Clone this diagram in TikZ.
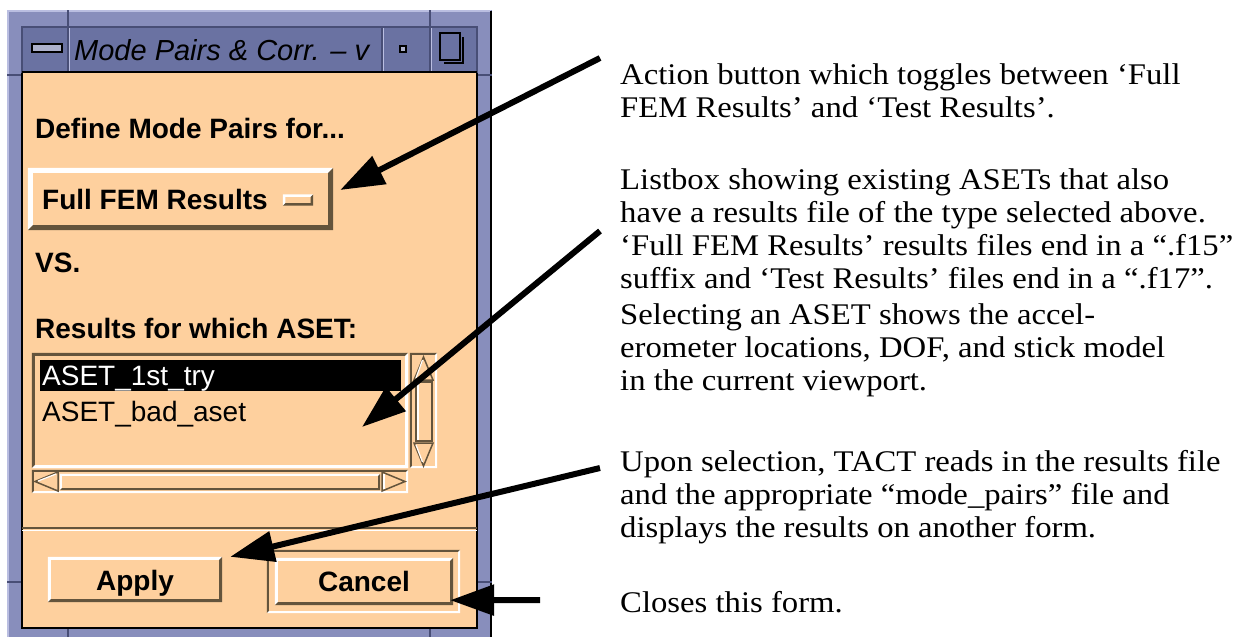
\documentclass[tikz,border=0pt]{standalone}
\usepackage{fontspec}
\setmainfont{Liberation Serif}
\newfontfamily\guifont{Liberation Sans}
\newfontfamily\descfont[FakeStretch=1.09]{Liberation Serif}
\usetikzlibrary{arrows.meta}

\definecolor{peach}{RGB}{254,208,158}
\definecolor{bevlo}{RGB}{100,84,60}
\definecolor{framebg}{RGB}{136,142,188}
\definecolor{framelt}{RGB}{186,190,225}
\definecolor{framedk}{RGB}{72,78,118}
\definecolor{titlebg}{RGB}{106,114,162}

% raised / sunken edge of a rectangular widget node
\newcommand{\widgetbevel}[4]{%
  \fill[#3] (#1.north west) -- (#1.north east) -- ([shift={(-#2,#2)}]#1.north east)
    -- ([shift={(#2,#2)}]#1.north west) -- ([shift={(#2,-#2)}]#1.south west) -- (#1.south west) -- cycle;
  \fill[#4] (#1.south east) -- (#1.south west) -- ([shift={(#2,-#2)}]#1.south west)
    -- ([shift={(-#2,-#2)}]#1.south east) -- ([shift={(-#2,#2)}]#1.north east) -- (#1.north east) -- cycle;
}
% short groove across the window frame
\newcommand{\framenotch}[4]{%
  \draw[framedk, line width=1.2] (#1,#2) -- (#3,#4);
}

\begin{document}
\begin{tikzpicture}[x=1pt, y=-1pt,
  box/.style={fill=peach, inner sep=0pt, draw=none},
  gui/.style={font=\guifont\bfseries\fontsize{28}{30}\selectfont, inner sep=0pt},
  listtext/.style={font=\guifont\fontsize{28}{30}\selectfont, inner sep=0pt},
  titletext/.style={font=\guifont\itshape\fontsize{29}{30}\selectfont, inner sep=0pt},
  desc/.style={font=\descfont\fontsize{30}{33}\selectfont, align=left, inner sep=0pt, anchor=north west},
  pointer/.style={line width=6pt, -{Triangle[length=44pt, width=30pt]}},
  sbarrow/.style={fill=peach, draw=bevlo, line width=1.5pt, line join=miter}
]
\useasboundingbox (0,0) rectangle (1257,637);
\fill[white] (0,0) rectangle (1257,637);

% ---- window frame ----
\fill[framebg] (7,10) rectangle (492,637);
\draw[framelt, line width=2pt] (8,637) -- (8,11) -- (491,11);
\draw[black, line width=2pt] (491,11) -- (491,637);
\framenotch{68}{10}{68}{27}
\framenotch{430}{10}{430}{27}
\framenotch{68}{628}{68}{637}
\framenotch{430}{628}{430}{637}
\framenotch{7}{75}{22}{75}
\framenotch{477}{75}{492}{75}
\framenotch{7}{582}{22}{582}
\framenotch{477}{582}{492}{582}

% ---- title bar ----
\fill[titlebg] (22,27) rectangle (477,72);
\draw[framedk, line width=1.2pt] (22,27) rectangle (477,72);
\foreach \sx in {68,382,430}{
  \draw[framedk, line width=1.2pt] (\sx,27) -- (\sx,72);
  \draw[framelt, line width=1pt] (\sx+1.5,28) -- (\sx+1.5,71);
}
\draw[black, line width=2pt] (22,72) -- (477,72);
\node[titletext, anchor=base west] (title) at (74,60) {Mode Pairs \& Corr. {\textendash} v};
\draw[black, line width=1.6pt, fill=titlebg!55!white] (32,44) rectangle (62,52);
\draw[black, line width=1.6pt, fill=titlebg!55!white] (400,46) rectangle (406,52);
\draw[black, line width=2.4pt] (463,37) -- (463,63) -- (444,63);
\draw[black, line width=1.6pt] (440,33) rectangle (460,60);

% ---- client area ----
\fill[peach] (22,73) rectangle (477,628);
\draw[black, line width=1.2pt] (22,73) -- (22,628) -- (477,628) -- (477,73);

\node[gui, anchor=base west] (define) at (35,138) {Define Mode Pairs for...};

% option menu button
\node[box, minimum width=305pt, minimum height=62pt] (fembtn) at (180.5,199) {};
\widgetbevel{fembtn}{5}{white}{bevlo}
\node[gui, anchor=base west] (femlbl) at (42,209) {Full FEM Results};
\node[box, minimum width=30pt, minimum height=11pt] (femind) at (298,200) {};
\widgetbevel{femind}{2.5}{white}{bevlo}

\node[gui, anchor=base west] (vs) at (35,272) {VS.};
\node[gui, anchor=base west] (forwhich) at (35,338) {Results for which ASET:};

% list box
\node[box, minimum width=376pt, minimum height=115pt] (list) at (220,410.5) {};
\widgetbevel{list}{3}{bevlo}{white}
\fill[black] (40,360) rectangle (401,391);
\node[listtext, anchor=base west, text=white] (item1) at (42,385) {ASET\_1st\_try};
\node[listtext, anchor=base west] (item2) at (42,421) {ASET\_bad\_aset};

% vertical scroll bar
\node[box, minimum width=27pt, minimum height=115pt] (vsb) at (423.5,410.5) {};
\widgetbevel{vsb}{2}{bevlo}{white}
\draw[sbarrow] (423.5,357) -- (433,380) -- (414,380) -- cycle;
\draw[white, line width=1.2pt] (422.5,360) -- (416,378);
\draw[bevlo, line width=1.5pt] (416,382) rectangle (432,441);
\draw[white, line width=1.2pt] (418,383) -- (418,440);
\draw[sbarrow] (414,443) -- (433,443) -- (423.5,466) -- cycle;
\draw[white, line width=1.2pt] (416,445) -- (422.5,462);

% horizontal scroll bar
\node[box, minimum width=376pt, minimum height=23pt] (hsb) at (220,481.5) {};
\widgetbevel{hsb}{2}{bevlo}{white}
\draw[sbarrow] (35,481.5) -- (58,472) -- (58,491) -- cycle;
\draw[white, line width=1.2pt] (38,481) -- (56,474);
\node[box, minimum width=320pt, minimum height=16pt] (hthumb) at (220,482) {};
\widgetbevel{hthumb}{2}{white}{bevlo}
\draw[sbarrow] (405,481.5) -- (382,472) -- (382,491) -- cycle;
\draw[white, line width=1.2pt] (384,474) -- (384,489);

% separator
\draw[bevlo, line width=1.5pt] (22,528) -- (477,528);
\draw[white, line width=1.5pt] (22,530.5) -- (477,530.5);

% command buttons
\node[box, minimum width=174pt, minimum height=45pt] (apply) at (135,579.5) {};
\widgetbevel{apply}{3}{white}{bevlo}
\node[gui, anchor=base] (applylbl) at (135,590) {Apply};
\node[box, minimum width=193pt, minimum height=63pt] (cframe) at (363.5,581.5) {};
\widgetbevel{cframe}{2}{bevlo}{white}
\node[box, minimum width=178pt, minimum height=47pt] (cancel) at (364,581.5) {};
\widgetbevel{cancel}{3}{white}{bevlo}
\node[gui, anchor=base] (cancellbl) at (364,591) {Cancel};

% ---- descriptions ----
\node[desc] (d1) at (620,63.5) {Action button which toggles between ‘Full\\FEM Results’ and ‘Test Results’.};
\node[desc] (d2) at (620,168.5) {Listbox showing existing ASETs that also\\have a results file of the type selected above.\\‘Full FEM Results’ results files end in a “.f15”\\suffix and ‘Test Results’ files end in a “.f17”.};
\node[desc] (d3) at (620,303.5) {Selecting an ASET shows the accel-\\erometer locations, DOF, and stick model\\in the current viewport.};
\node[desc] (d4) at (620,450.5) {Upon selection, TACT reads in the results file\\and the appropriate “mode\_pairs” file and\\displays the results on another form.};
\node[desc] (d5) at (620,591.5) {Closes this form.};

% ---- pointers ----
\coordinate (p1) at (600,58);
\coordinate (p2) at (600,231);
\coordinate (p3) at (600,468);
\coordinate (p4) at (540,600);
\draw[pointer] (p1) -- ([xshift=7pt, yshift=9pt]fembtn.east);
\draw[pointer] (p2) -- ([xshift=142pt, yshift=-16.5pt]list.center);
\draw[pointer] (p3) -- ([xshift=8pt]apply.north east);
\draw[pointer] (p4) -- ([xshift=-3pt, yshift=5pt]cancel.south east);
\end{tikzpicture}
\end{document}
